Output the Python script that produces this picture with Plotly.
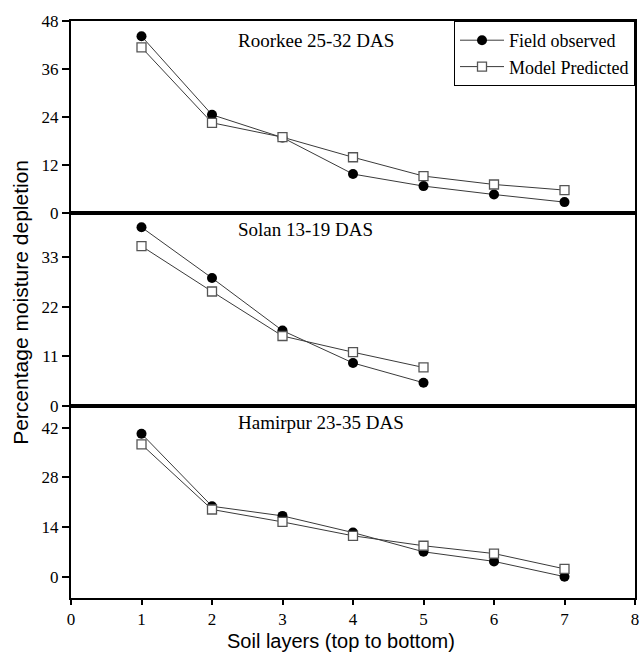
import plotly.graph_objects as go
from plotly.subplots import make_subplots

layers_roorkee = [1, 2, 3, 4, 5, 6, 7]
roorkee_field = [44.2, 24.6, 18.9, 9.8, 6.8, 4.7, 2.8]
roorkee_model = [41.4, 22.6, 19.0, 14.0, 9.3, 7.2, 5.8]

layers_solan = [1, 2, 3, 4, 5]
solan_field = [39.7, 28.4, 16.7, 9.5, 5.1]
solan_model = [35.5, 25.4, 15.5, 11.9, 8.5]

layers_hamirpur = [1, 2, 3, 4, 5, 6, 7]
hamirpur_field = [40.3, 19.9, 17.2, 12.5, 7.1, 4.4, 0.1]
hamirpur_model = [37.3, 19.0, 15.5, 11.6, 8.8, 6.6, 2.3]

panel_titles = ["Roorkee 25-32 DAS", "Solan 13-19 DAS", "Hamirpur 23-35 DAS"]
y_ticks = [[0, 12, 24, 36, 48], [0, 11, 22, 33], [0, 14, 28, 42]]
y_ranges = [[0, 48], [0, 42.8], [-5.9, 48.2]]
x_ticks = [0, 1, 2, 3, 4, 5, 6, 7, 8]

fig = make_subplots(rows=3, cols=1, shared_xaxes=True, vertical_spacing=0)

serif = "Liberation Serif, Times New Roman, serif"
sans = "Liberation Sans, Arial, sans-serif"

data = [
    (layers_roorkee, roorkee_field, roorkee_model),
    (layers_solan, solan_field, solan_model),
    (layers_hamirpur, hamirpur_field, hamirpur_model),
]

for i, (xs, f, m) in enumerate(data):
    row = i + 1
    fig.add_trace(go.Scatter(
        x=xs, y=f, mode="lines+markers", name="Field observed",
        line=dict(color="#3a3a3a", width=1),
        marker=dict(symbol="circle", size=10, color="black"),
        showlegend=(i == 0), legendgroup="f"), row=row, col=1)
    fig.add_trace(go.Scatter(
        x=xs, y=m, mode="lines+markers", name="Model Predicted",
        line=dict(color="#3a3a3a", width=1),
        marker=dict(symbol="square", size=9, color="white",
                    line=dict(color="#555555", width=1.3)),
        showlegend=(i == 0), legendgroup="m"), row=row, col=1)

for i in range(3):
    row = i + 1
    fig.update_yaxes(range=y_ranges[i], tickvals=y_ticks[i],
                     ticks="outside", ticklen=7, tickwidth=1.5, tickcolor="black",
                     showline=True, linewidth=2, linecolor="black", mirror=True,
                     showgrid=False, zeroline=False, automargin=False,
                     tickfont=dict(family=serif, size=17, color="black"),
                     row=row, col=1)
    fig.update_xaxes(range=[0, 8], tickvals=x_ticks,
                     showline=True, linewidth=2, linecolor="black", mirror=True,
                     showgrid=False, zeroline=False, automargin=False,
                     ticks="outside" if row == 3 else "", ticklen=5, tickwidth=1.5,
                     tickcolor="black",
                     showticklabels=(row == 3),
                     tickfont=dict(family=serif, size=17, color="black"),
                     row=row, col=1)

ann_y = [0.967, 0.6395, 0.3033]
for t, yy in zip(panel_titles, ann_y):
    fig.add_annotation(text=t, xref="x", x=2.34, xanchor="left",
                       yref="paper", y=yy, yanchor="middle", showarrow=False,
                       font=dict(family=serif, size=19, color="black"))

fig.add_annotation(text="Percentage moisture depletion", textangle=-90,
                   xref="paper", x=-0.09, xanchor="center",
                   yref="paper", y=0.512, yanchor="middle", showarrow=False,
                   font=dict(family=sans, size=21, color="black"))
fig.add_annotation(text="Soil layers (top to bottom)",
                   xref="paper", x=0.479, xanchor="center",
                   yref="paper", y=-0.0738, yanchor="middle", showarrow=False,
                   font=dict(family=sans, size=20, color="black"))

fig.update_layout(
    width=640, height=652,
    margin=dict(l=71, r=5, t=21, b=54),
    plot_bgcolor="white", paper_bgcolor="white",
    legend=dict(x=1, xanchor="right", y=1, yanchor="top",
                bgcolor="white", bordercolor="black", borderwidth=1,
                font=dict(family=serif, size=18, color="black"),
                tracegroupgap=0, itemwidth=44),
)

fig.write_html("out.html", config={"displayModeBar": False},
               post_script="document.body.style.margin='0';")
